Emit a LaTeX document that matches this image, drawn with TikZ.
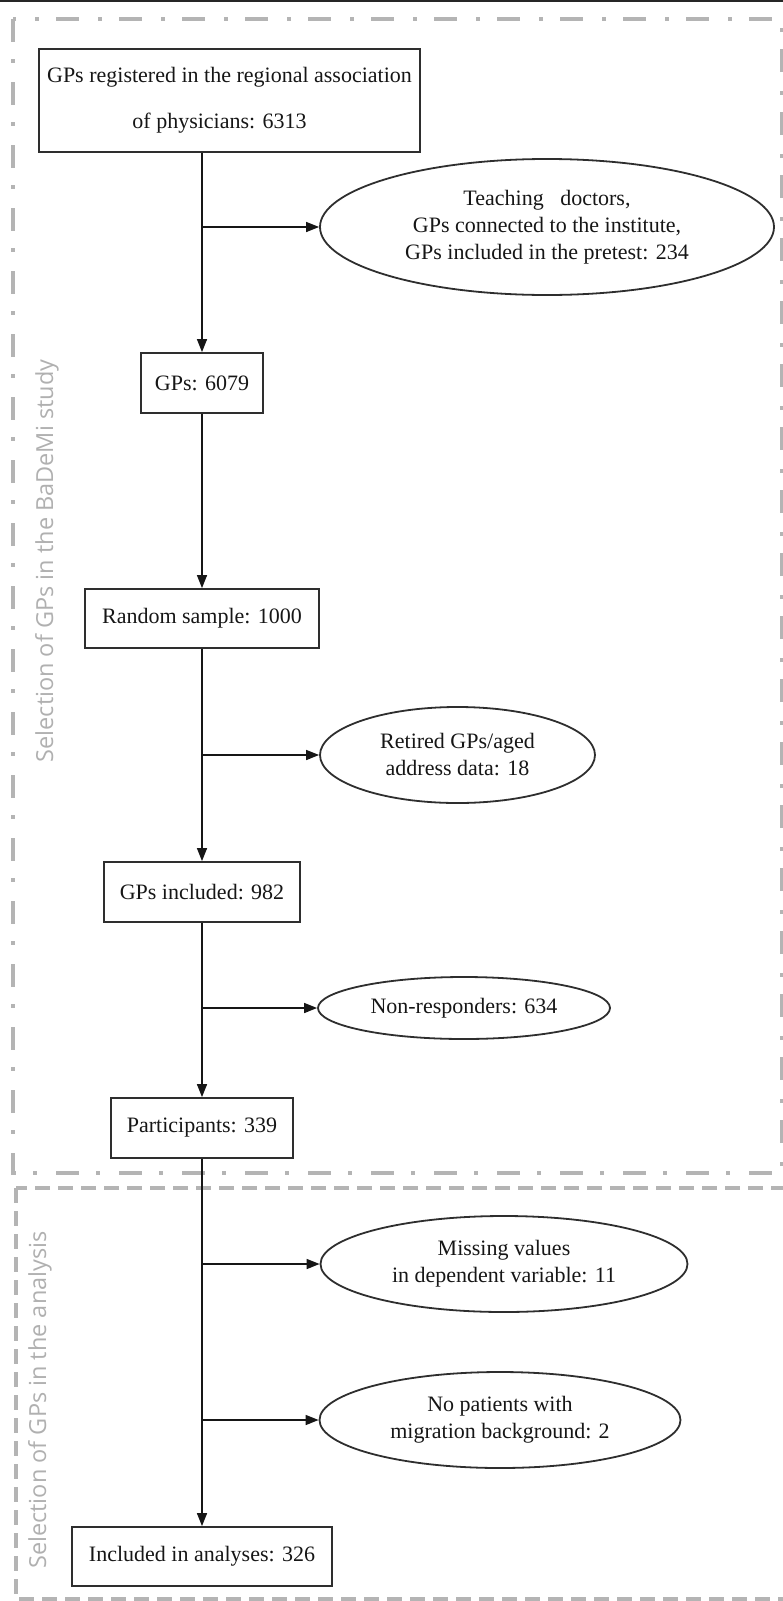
\documentclass[tikz,border=0pt]{standalone}
\usepackage{fontspec}
\setmainfont{Liberation Serif}
\newfontfamily\labelfont{Open Sans}
\usetikzlibrary{arrows.meta,shapes.geometric}
\definecolor{boxcol}{HTML}{2E2E2E}
\definecolor{txtcol}{HTML}{161616}
\definecolor{frame}{HTML}{B4B4B4}
\definecolor{sidetxt}{HTML}{B0B0B0}
\begin{document}
\begin{tikzpicture}[x=1pt,y=-1pt,
  flowbox/.style={draw=boxcol, line width=1.8pt, rectangle, inner sep=0pt, align=center,
    text=txtcol, font=\fontsize{22}{27}\selectfont},
  flowell/.style={draw=boxcol, line width=1.8pt, ellipse, inner sep=0pt, align=center,
    text=txtcol, font=\fontsize{22}{27}\selectfont},
  arr/.style={draw=txtcol, line width=1.5pt, -{Triangle[length=13pt,width=10pt]}},
  dashdotframe/.style={draw=frame, line width=3.5pt, dash pattern=on 23pt off 17pt on 4pt off 19pt},
  dashframe/.style={draw=frame, line width=3.5pt, dash pattern=on 15pt off 8pt},
  sidelabel/.style={text=sidetxt, font=\labelfont\fontsize{23.5}{28}\selectfont, rotate=90, inner sep=0pt}
]
\useasboundingbox (0,0) rectangle (783,1601);
% top rule
\fill[black!85] (0,0) rectangle (783,2);
% frames
\draw[dashdotframe] (13,19) rectangle (782,1173);
\draw[dashframe] (16,1188) rectangle (795,1599);
% side labels
\node[sidelabel] (s1) at (47,561) {Selection of GPs in the BaDeMi study};
\node[sidelabel] (s2) at (40,1400) {Selection of GPs in the analysis};
% boxes
\node[flowbox, minimum width=381pt, minimum height=103pt] (b1) at (229.5,100.5)
  {GPs registered in the regional association\\[19pt]of physicians: 6313\rule{20pt}{0pt}};
\node[flowbox, minimum width=122.5pt, minimum height=60pt] (b2) at (202,383) {GPs: 6079};
\node[flowbox, minimum width=233.5pt, minimum height=59pt] (b3) at (202,618.5) {Random sample: 1000};
\node[flowbox, minimum width=196.5pt, minimum height=60pt] (b4) at (202,892) {GPs included: 982};
\node[flowbox, minimum width=182.5pt, minimum height=60pt] (b5) at (202,1128) {Participants: 339};
\node[flowbox, minimum width=260pt, minimum height=59pt] (b6) at (202,1556.5) {Included in analyses: 326};
% ellipses
\node[flowell, minimum width=454pt, minimum height=136pt] (e1) at (547,227)
  {Teaching\ \ \ doctors,\\GPs connected to the institute,\\GPs included in the pretest: 234};
\node[flowell, minimum width=275pt, minimum height=96pt] (e2) at (457.5,755)
  {Retired GPs/aged\\address data: 18};
\node[flowell, minimum width=292pt, minimum height=62pt] (e3) at (464,1008) {Non-responders: 634};
\node[flowell, minimum width=367pt, minimum height=96pt] (e4) at (504,1264)
  {Missing values\\in dependent variable: 11};
\node[flowell, minimum width=361pt, minimum height=96pt] (e5) at (500,1420)
  {No patients with\\migration background: 2};
% main flow
\draw[arr] (b1.south -| b2.north) -- (b2.north);
\draw[arr] (b2.south) -- (b3.north);
\draw[arr] (b3.south) -- (b4.north);
\draw[arr] (b4.south) -- (b5.north);
\draw[arr] (b5.south) -- (b6.north);
% branches
\draw[arr] (e1.west -| b2.north) -- (e1.west);
\draw[arr] (e2.west -| b2.north) -- (e2.west);
\draw[arr] (e3.west -| b2.north) -- (e3.west);
\draw[arr] (e4.west -| b2.north) -- (e4.west);
\draw[arr] (e5.west -| b2.north) -- (e5.west);
\end{tikzpicture}
\end{document}
